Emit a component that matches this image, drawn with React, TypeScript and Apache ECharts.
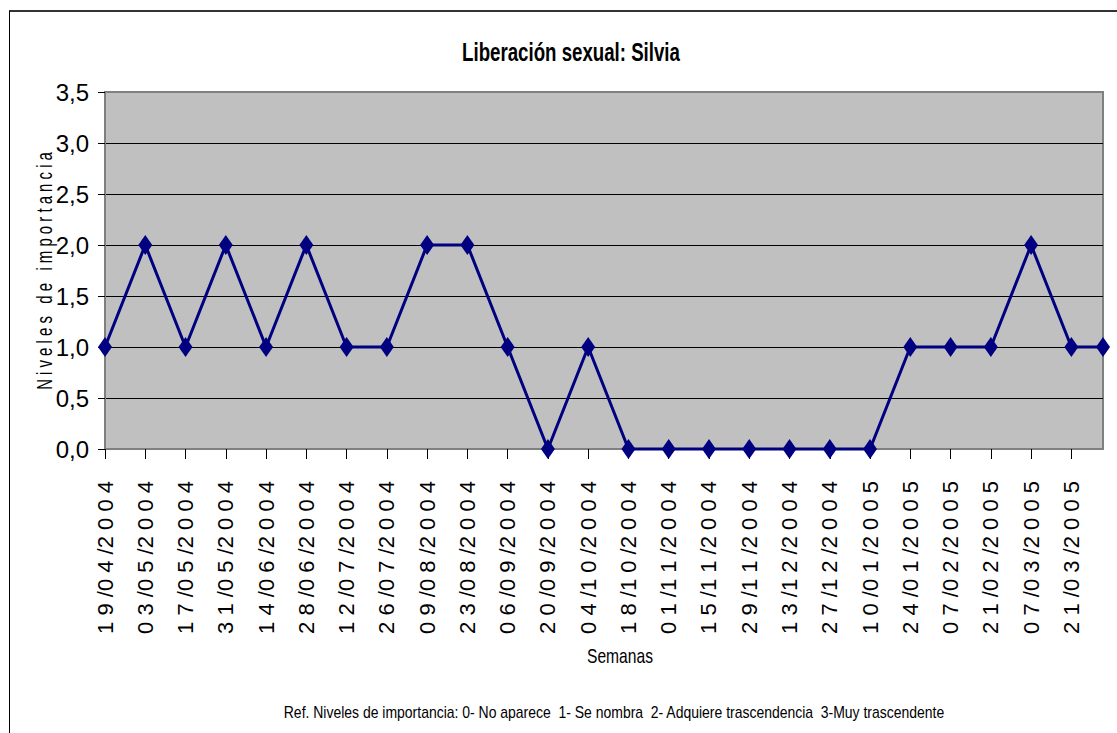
import React, { useEffect, useRef } from "react";
import * as echarts from "echarts";

const chartTitle = "Liberación sexual: Silvia";
const yAxisTitle = "Niveles de importancia";
const xAxisTitle = "Semanas";
const footnote =
  "Ref. Niveles de importancia: 0- No aparece  1- Se nombra  2- Adquiere trascendencia  3-Muy trascendente";

const weeks = [
  "19/04/2004", "03/05/2004", "17/05/2004", "31/05/2004", "14/06/2004",
  "28/06/2004", "12/07/2004", "26/07/2004", "09/08/2004", "23/08/2004",
  "06/09/2004", "20/09/2004", "04/10/2004", "18/10/2004", "01/11/2004",
  "15/11/2004", "29/11/2004", "13/12/2004", "27/12/2004", "10/01/2005",
  "24/01/2005", "07/02/2005", "21/02/2005", "07/03/2005", "21/03/2005",
  "01/04/2005",
];
const levels = [1, 2, 1, 2, 1, 2, 1, 1, 2, 2, 1, 0, 1, 0, 0, 0, 0, 0, 0, 0, 1, 1, 1, 2, 1, 1];

const yMin = 0;
const yMax = 3.5;
const yStep = 0.5;

const DAY = 86400000;
const STEP_DAYS = 14;
const FONT = "'Liberation Sans', Arial, sans-serif";

function parseDate(s: string) {
  const [d, m, y] = s.split("/").map(Number);
  return Date.UTC(y, m - 1, d);
}
const t0 = parseDate(weeks[0]);
const xs = weeks.map((w) => (parseDate(w) - t0) / (STEP_DAYS * DAY));
const xMax = xs[xs.length - 1];
const tickXs: number[] = [];
for (let k = 0; k <= xMax + 1e-9; k++) tickXs.push(k);

function pad(n: number) {
  return n < 10 ? "0" + n : String(n);
}
function labelFor(v: number) {
  const d = new Date(t0 + Math.round(v * STEP_DAYS) * DAY);
  const parts = [pad(d.getUTCDate()), pad(d.getUTCMonth() + 1), String(d.getUTCFullYear())];
  return parts.map((p) => p.split("").join(" ")).join(" /");
}

function measure(text: string, font: string) {
  const ctx = document.createElement("canvas").getContext("2d")!;
  ctx.font = font;
  return ctx.measureText(text).width;
}

export default function App() {
  const ref = useRef<HTMLDivElement>(null);
  useEffect(() => {
    if (!ref.current) return;
    const chart = echarts.init(ref.current, undefined, { renderer: "svg" });

    const titleFont = `bold 26px ${FONT}`;
    const titleScale = 218 / measure(chartTitle, titleFont);
    const xNameFont = `20px ${FONT}`;
    const xNameScale = 66 / measure(xAxisTitle, xNameFont);
    const noteFont = `17px ${FONT}`;
    const noteScale = 662 / measure(footnote, noteFont);
    const yNameText = yAxisTitle.split("").join(" ");
    const yNameFont = `22px ${FONT}`;
    const yNameScale = 238 / measure(yNameText, yNameFont);

    const data = xs.map((x, i) => [x, levels[i]]);

    chart.setOption({
      animation: false,
      backgroundColor: "#ffffff",
      grid: {
        left: 105,
        top: 92,
        width: 998,
        height: 357,
        show: true,
        backgroundColor: "#C0C0C0",
        borderColor: "#808080",
        borderWidth: 2,
      },
      xAxis: {
        type: "value",
        min: 0,
        max: xMax,
        interval: 1,
        axisLine: { show: true, lineStyle: { color: "#808080", width: 2 } },
        axisTick: {
          show: true,
          customValues: tickXs,
          length: 10,
          lineStyle: { color: "#000000", width: 1 },
        },
        axisLabel: {
          customValues: tickXs,
          rotate: 90,
          margin: 32,
          fontSize: 22,
          fontFamily: FONT,
          color: "#000000",
          formatter: (v: number) => labelFor(v),
        },
        splitLine: { show: false },
      },
      yAxis: {
        type: "value",
        min: yMin,
        max: yMax,
        interval: yStep,
        axisLine: { show: true, lineStyle: { color: "#808080", width: 2 } },
        axisTick: { show: true, length: 7, lineStyle: { color: "#000000", width: 1 } },
        axisLabel: {
          margin: 16,
          fontSize: 24,
          fontFamily: FONT,
          color: "#000000",
          formatter: (v: number) => v.toFixed(1).replace(".", ","),
        },
        splitLine: {
          show: true,
          lineStyle: {
            color: ["#000000", "#000000", "#000000", "#000000", "#000000", "#000000", "#000000", "#808080"],
            width: 1,
          },
        },
      },
      series: [
        {
          type: "line",
          data,
          clip: false,
          symbol: "diamond",
          symbolSize: [14, 20],
          lineStyle: { color: "#000080", width: 3 },
          itemStyle: { color: "#000080" },
          z: 5,
        },
      ],
      graphic: [
        {
          type: "line",
          shape: { x1: 9, y1: 11, x2: 1117, y2: 11 },
          style: { stroke: "#333333", lineWidth: 2 },
          silent: true,
        },
        {
          type: "line",
          shape: { x1: 9.5, y1: 11, x2: 9.5, y2: 733 },
          style: { stroke: "#000000", lineWidth: 1 },
          silent: true,
        },
        {
          type: "text",
          x: 571,
          y: 52,
          scaleX: titleScale,
          style: {
            text: chartTitle,
            font: titleFont,
            fill: "#000000",
            align: "center",
            verticalAlign: "middle",
          },
        },
        {
          type: "text",
          x: 44,
          y: 271,
          rotation: Math.PI / 2,
          scaleX: yNameScale,
          style: {
            text: yNameText,
            font: yNameFont,
            fill: "#000000",
            align: "center",
            verticalAlign: "middle",
          },
        },
        {
          type: "text",
          x: 620,
          y: 656,
          scaleX: xNameScale,
          style: {
            text: xAxisTitle,
            font: xNameFont,
            fill: "#000000",
            align: "center",
            verticalAlign: "middle",
          },
        },
        {
          type: "text",
          x: 614,
          y: 712,
          scaleX: noteScale,
          style: {
            text: footnote,
            font: noteFont,
            fill: "#000000",
            align: "center",
            verticalAlign: "middle",
          },
        },
      ],
    });
    return () => chart.dispose();
  }, []);
  return (
    <div
      ref={ref}
      style={{ position: "absolute", left: 0, top: 0, width: 1117, height: 733 }}
    />
  );
}
